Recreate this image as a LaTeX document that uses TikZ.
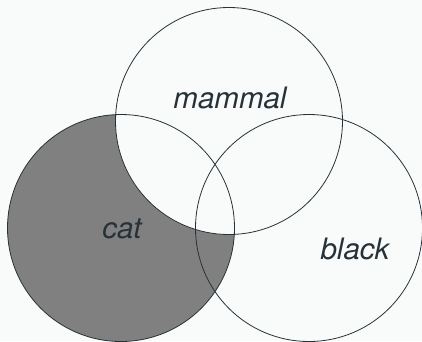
\documentclass[tikz,border=0pt]{standalone}
\usepackage{fontspec}
\setmainfont{TeX Gyre Heros}
\definecolor{bg}{HTML}{F9FAFA}
\definecolor{ln}{HTML}{263238}
\definecolor{catgray}{HTML}{808080}
\begin{document}
\begin{tikzpicture}[x=1pt,y=-1pt,
  setc/.style={draw=ln,line width=0.8pt},
  lbl/.style={anchor=base,text=ln,font=\fontsize{29.5}{34}\selectfont\itshape,inner sep=0pt}]
\fill[bg] (0,0) rectangle (422,341);
\useasboundingbox (0,0) rectangle (422,341);
\coordinate (c) at (121,228);
\coordinate (m) at (229,121);
\coordinate (b) at (309,228);
\fill[fill=catgray] (c) circle[radius=113.5];
\fill[fill=bg] (m) circle[radius=113.5];
\draw[setc] (c) circle[radius=113.5];
\draw[setc] (m) circle[radius=113.5];
\draw[setc] (b) circle[radius=113.5];
\node[lbl] (tm) at (230,108.5) {mammal};
\node[lbl] (tc) at (122,238) {cat};
\node[lbl] (tb) at (355,259) {black};
\end{tikzpicture}
\end{document}
